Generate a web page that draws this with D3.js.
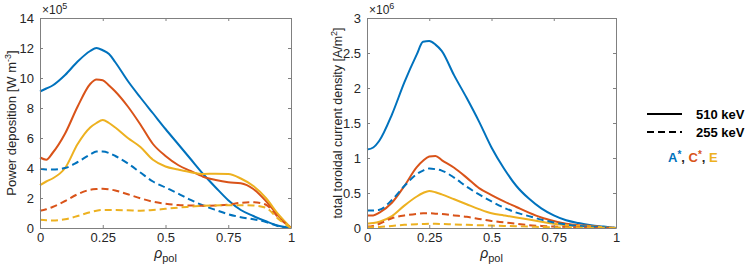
<!DOCTYPE html>
<html>
<head>
<meta charset="utf-8">
<script src="https://cdn.jsdelivr.net/npm/d3@7"></script>
<style>
  body { margin: 0; background: #fff; }
  text { font-family: "Liberation Sans", Arial, sans-serif; }
</style>
</head>
<body>
<div class="chart"></div>
<script>
// radial grid (rho_pol)
const rho = [0, 0.025, 0.05, 0.1, 0.15, 0.2, 0.225, 0.25, 0.275, 0.3, 0.35, 0.4, 0.45, 0.5,
  0.55, 0.6, 0.65, 0.7, 0.75, 0.8, 0.85, 0.9, 0.95, 1];

// power deposition, units of 1e5 W m^-3
const powerA510 = [9.1, 9.3, 9.5, 10.2, 11.1, 11.8, 12.0, 11.85, 11.6, 11.05, 9.8, 8.7, 7.65, 6.6,
  5.6, 4.6, 3.6, 2.7, 1.85, 1.2, 0.8, 0.45, 0.15, 0];
const powerC510 = [4.7, 4.55, 5.0, 6.3, 8.1, 9.6, 9.9, 9.85, 9.5, 9.1, 8.1, 6.9, 5.6, 4.8,
  4.2, 3.8, 3.42, 3.2, 3.05, 2.98, 2.6, 1.8, 0.8, 0];
const powerE510 = [2.85, 3.1, 3.3, 4.0, 5.6, 6.7, 7.0, 7.2, 7.0, 6.7, 6.0, 5.4, 4.55, 4.1,
  3.9, 3.72, 3.6, 3.62, 3.6, 3.3, 2.8, 2.0, 0.9, 0];
const powerA255 = [3.95, 3.9, 3.9, 4.0, 4.4, 4.9, 5.1, 5.1, 5.0, 4.8, 4.3, 3.7, 3.1, 2.7,
  2.3, 1.87, 1.5, 1.2, 0.92, 0.72, 0.58, 0.4, 0.12, 0];
const powerC255 = [1.15, 1.25, 1.4, 1.8, 2.25, 2.55, 2.6, 2.62, 2.58, 2.5, 2.25, 1.98, 1.75, 1.62,
  1.53, 1.5, 1.48, 1.5, 1.55, 1.68, 1.72, 1.55, 0.7, 0];
const powerE255 = [0.55, 0.52, 0.5, 0.58, 0.8, 1.05, 1.15, 1.2, 1.2, 1.2, 1.18, 1.15, 1.2, 1.28,
  1.36, 1.42, 1.48, 1.5, 1.52, 1.52, 1.5, 1.35, 0.6, 0];

// total toroidal current density, units of 1e6 A/m^2
const currA510 = [1.12, 1.15, 1.25, 1.62, 2.08, 2.48, 2.66, 2.67, 2.62, 2.53, 2.18, 1.86, 1.52, 1.15,
  0.85, 0.6, 0.42, 0.28, 0.18, 0.11, 0.07, 0.04, 0.02, 0];
const currC510 = [0.18, 0.18, 0.22, 0.36, 0.6, 0.87, 0.96, 1.02, 1.03, 0.97, 0.86, 0.72, 0.57, 0.47,
  0.38, 0.3, 0.22, 0.15, 0.1, 0.06, 0.04, 0.03, 0.01, 0];
const currE510 = [0.06, 0.07, 0.09, 0.17, 0.32, 0.45, 0.5, 0.53, 0.51, 0.48, 0.41, 0.34, 0.27, 0.21,
  0.18, 0.15, 0.12, 0.09, 0.06, 0.04, 0.03, 0.02, 0.01, 0];
const currA255 = [0.25, 0.25, 0.26, 0.4, 0.6, 0.77, 0.82, 0.85, 0.84, 0.82, 0.72, 0.59, 0.48, 0.38,
  0.29, 0.22, 0.17, 0.12, 0.08, 0.05, 0.03, 0.02, 0.01, 0];
const currC255 = [0.02, 0.03, 0.06, 0.14, 0.18, 0.2, 0.21, 0.21, 0.205, 0.2, 0.18, 0.16, 0.13, 0.1,
  0.08, 0.06, 0.04, 0.03, 0.02, 0.015, 0.01, 0.005, 0, 0];
const currE255 = [0.01, 0.012, 0.015, 0.03, 0.045, 0.055, 0.058, 0.06, 0.06, 0.058, 0.05, 0.045, 0.04, 0.035,
  0.03, 0.025, 0.02, 0.015, 0.01, 0.008, 0.005, 0.003, 0.001, 0];

const xTicks = [0, 0.25, 0.5, 0.75, 1];
const yTicksPower = [0, 2, 4, 6, 8, 10, 12, 14];
const yTicksCurr = [0, 0.5, 1, 1.5, 2, 2.5, 3];

const colA = '#0072BD', colC = '#D95319', colE = '#EDB120';
const axisCol = '#808080', textCol = '#262626';

const W = 754, H = 273;
const svg = d3.select('.chart').append('svg')
  .attr('width', W).attr('height', H);

const fmt = d => String(d);

function panel(left, right, yMax, yTicks, series, ylabel, expo) {
  const top = 18, bottom = 228;
  const x = d3.scaleLinear().domain([0, 1]).range([left, right]);
  const y = d3.scaleLinear().domain([0, yMax]).range([bottom, top]);
  const g = svg.append('g');

  const line = d3.line()
    .x((d, i) => x(rho[i]))
    .y(d => y(d))
    .curve(d3.curveMonotoneX);

  series.forEach(s => {
    g.append('path')
      .datum(s.values)
      .attr('d', line)
      .attr('fill', 'none')
      .attr('stroke', s.color)
      .attr('stroke-width', 2)
      .attr('stroke-dasharray', s.dash ? '7,4' : null);
  });

  // box with inward ticks on all sides (matlab style)
  const styleAxis = sel => {
    sel.select('.domain').attr('stroke', axisCol);
    sel.selectAll('.tick line').attr('stroke', axisCol);
    sel.selectAll('.tick text').attr('fill', textCol)
      .style('font-size', '13px');
  };
  g.append('g').attr('transform', `translate(0,${bottom})`)
    .call(d3.axisBottom(x).tickValues(xTicks).tickFormat(fmt).tickSize(-3).tickPadding(5).tickSizeOuter(0))
    .call(styleAxis);
  g.append('g').attr('transform', `translate(0,${top})`)
    .call(d3.axisTop(x).tickValues(xTicks).tickSize(-3).tickSizeOuter(0).tickFormat(''))
    .call(styleAxis);
  g.append('g').attr('transform', `translate(${left},0)`)
    .call(d3.axisLeft(y).tickValues(yTicks).tickFormat(fmt).tickSize(-3).tickPadding(6).tickSizeOuter(0))
    .call(styleAxis);
  g.append('g').attr('transform', `translate(${right},0)`)
    .call(d3.axisRight(y).tickValues(yTicks).tickSize(-3).tickSizeOuter(0).tickFormat(''))
    .call(styleAxis);

  // exponent label
  const ex = g.append('text').attr('x', left + 2).attr('y', 14)
    .attr('fill', textCol).style('font-size', '12px');
  ex.append('tspan').text('\u00d710');
  ex.append('tspan').attr('dy', -5).style('font-size', '9px').text(expo);

  // x label
  const xl = g.append('text')
    .attr('x', (left + right) / 2).attr('y', 258)
    .attr('text-anchor', 'middle').attr('fill', textCol)
    .style('font-size', '14px');
  xl.append('tspan').style('font-style', 'italic').text('\u03c1');
  xl.append('tspan').attr('dy', 4).style('font-size', '11px').text('pol');

  // y label
  const yl = g.append('text')
    .attr('transform', `translate(${ylabel.x},${(top + bottom) / 2}) rotate(-90)`)
    .attr('text-anchor', 'middle').attr('fill', textCol)
    .style('font-size', ylabel.size);
  yl.append('tspan').text(ylabel.text);
  yl.append('tspan').attr('dy', -5).style('font-size', '9px').text(ylabel.sup);
  yl.append('tspan').attr('dy', 5).text(']');
}

panel(40, 291, 14, yTicksPower, [
  { values: powerA510, color: colA },
  { values: powerC510, color: colC },
  { values: powerE510, color: colE },
  { values: powerA255, color: colA, dash: true },
  { values: powerC255, color: colC, dash: true },
  { values: powerE255, color: colE, dash: true }
], { x: 16, size: '13px', text: 'Power deposition [W m', sup: '-3' }, '5');

panel(367, 616, 3, yTicksCurr, [
  { values: currA510, color: colA },
  { values: currC510, color: colC },
  { values: currE510, color: colE },
  { values: currA255, color: colA, dash: true },
  { values: currC255, color: colC, dash: true },
  { values: currE255, color: colE, dash: true }
], { x: 342, size: '12.5px', text: 'total toroidal current density [A/m', sup: '2' }, '6');

// legend
const lg = svg.append('g');
[{ y: 114, dash: null, label: '510 keV' }, { y: 132, dash: '7,4', label: '255 keV' }].forEach(d => {
  lg.append('line').attr('x1', 647).attr('x2', 682).attr('y1', d.y).attr('y2', d.y)
    .attr('stroke', '#000').attr('stroke-width', 2).attr('stroke-dasharray', d.dash);
  lg.append('text').attr('x', 696).attr('y', d.y + 5)
    .style('font-size', '13px').style('font-weight', 'bold').attr('fill', '#000')
    .text(d.label);
});
const cases = lg.append('text').attr('x', 668).attr('y', 162)
  .style('font-size', '13px').style('font-weight', 'bold');
const caseParts = [
  { t: 'A', c: colA }, { t: '*', c: colA, sup: true }, { t: ', ', c: textCol },
  { t: 'C', c: colC }, { t: '*', c: colC, sup: true }, { t: ', ', c: textCol },
  { t: 'E', c: colE }
];
let raised = false;
caseParts.forEach(p => {
  const ts = cases.append('tspan').attr('fill', p.c).text(p.t);
  if (p.sup) { ts.attr('dy', -4).style('font-size', '10px'); raised = true; }
  else if (raised) { ts.attr('dy', 4); raised = false; }
});
</script>
</body>
</html>
